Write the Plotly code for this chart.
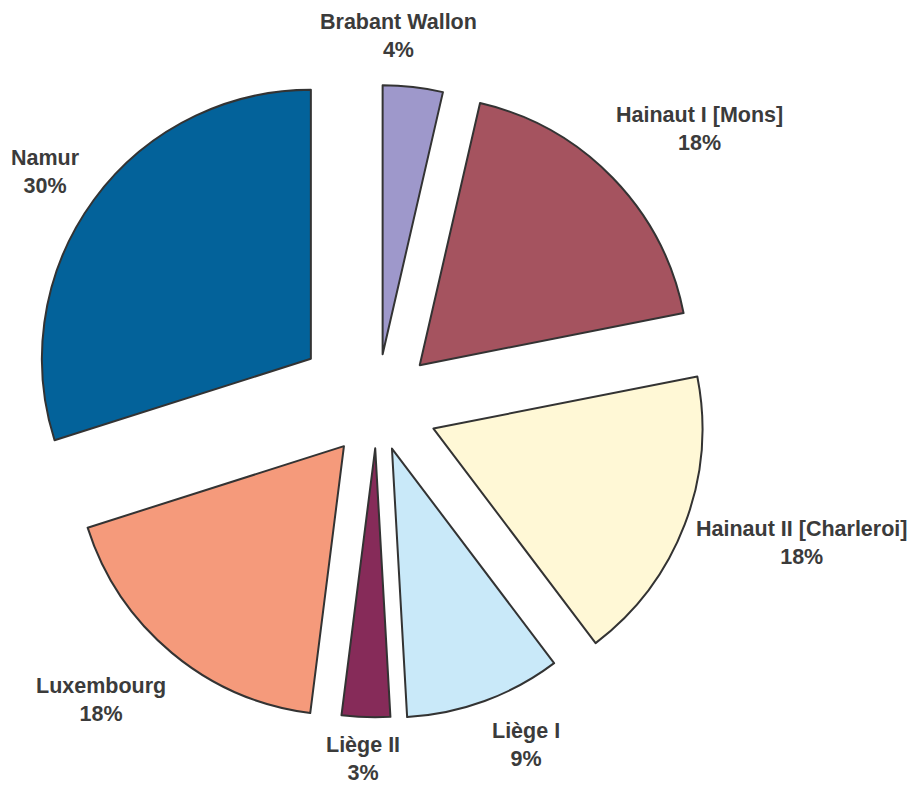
import math
import plotly.graph_objects as go

labels = ["Brabant Wallon", "Hainaut I [Mons]", "Hainaut II [Charleroi]",
          "Liège I", "Liège II", "Luxembourg", "Namur"]
values = [3.6, 18.3, 17.8, 9.4, 2.9, 18.1, 29.9]
colors = ["#9e98cb", "#a5535f", "#fff8d6", "#c9e9f9", "#862b59", "#f59a7b", "#03629a"]
pulls = [0.197, 0.223, 0.226, 0.165, 0.154, 0.19, 0.303]

# small pixel nudges of each outside label (dx right, dy down)
label_nudge = [(-17, -3), (-13, -7), (-9, 11), (-2, -3), (-2, -6), (9, 4), (4, 12)]

W, H = 916, 785
DOM_X = [0.0198, 0.7851]
DOM_Y = [0.0454, 0.9383]
LABEL_GAP = 20
FONT = dict(family="Arial, Liberation Sans, sans-serif", size=21.5,
            color="#3b3b3b", weight="bold")

fig = go.Figure(go.Pie(
    labels=labels,
    values=values,
    sort=False,
    direction="clockwise",
    rotation=0,
    pull=pulls,
    automargin=False,
    marker=dict(colors=colors, line=dict(color="#333333", width=2)),
    textinfo="none",
    domain=dict(x=DOM_X, y=DOM_Y),
    showlegend=False,
    hoverinfo="label+percent",
))

# Outside-end labels placed from the pie geometry (same as plotly's layout rules)
box_w = W * (DOM_X[1] - DOM_X[0])
box_h = H * (DOM_Y[1] - DOM_Y[0])
r = min(box_w, box_h) / 2 / (1 + max(pulls))
cx = W * (DOM_X[0] + DOM_X[1]) / 2
cy = H * (1 - DOM_Y[0]) - box_h / 2
total = sum(values)
cum = 0.0
for lab, v, p, (ndx, ndy) in zip(labels, values, pulls, label_nudge):
    mid = (cum + v / 2) / total * 2 * math.pi
    cum += v
    sx, sy = math.sin(mid), -math.cos(mid)
    d = r * (1 + p) + LABEL_GAP
    px, py = cx + d * sx, cy + d * sy
    xanchor = "left" if sx > 0.3 else ("right" if sx < -0.3 else "center")
    yanchor = "bottom" if sy < -0.5 else ("top" if sy > 0.5 else "middle")
    pct = round(v / total * 100)
    fig.add_annotation(
        x=px / W, y=1 - py / H, xref="paper", yref="paper",
        text=f"{lab}<br>{pct}%", showarrow=False, align="center",
        xanchor=xanchor, yanchor=yanchor, xshift=ndx, yshift=-ndy,
        font=FONT,
    )

fig.update_layout(
    width=W, height=H,
    autosize=False,
    margin=dict(l=0, r=0, t=0, b=0, pad=0, autoexpand=False),
    paper_bgcolor="white",
    plot_bgcolor="white",
    font=dict(family="Arial, Liberation Sans, sans-serif", color="#3b3b3b"),
)

fig.write_html("out.html")
